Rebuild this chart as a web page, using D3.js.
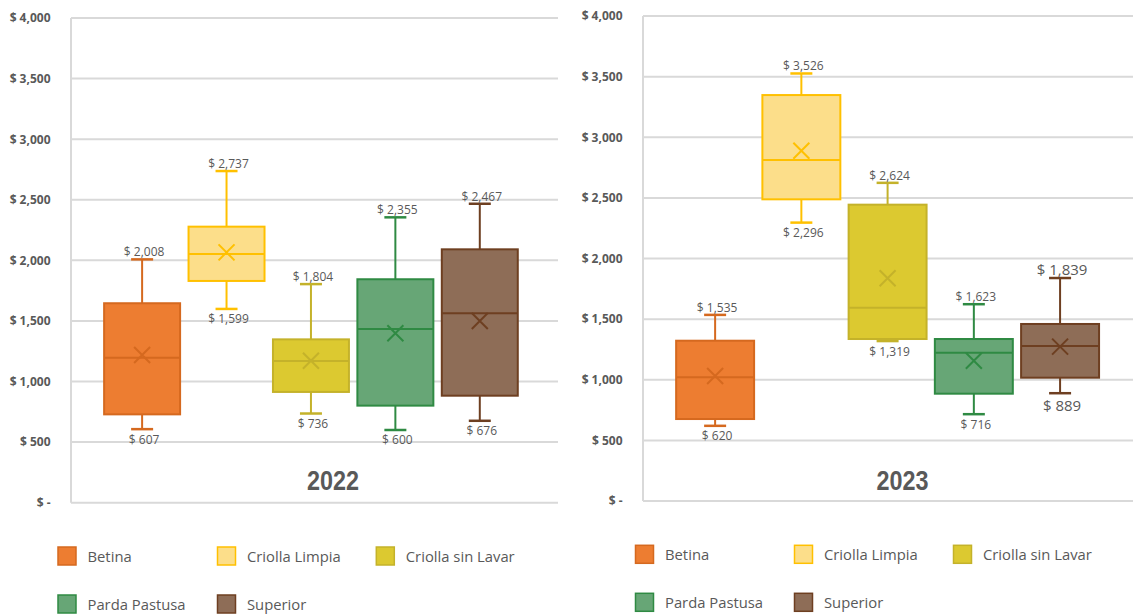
<!DOCTYPE html>
<html>
<head>
<meta charset="utf-8">
<script src="https://cdn.jsdelivr.net/npm/d3@7"></script>
<style>
  html, body { margin: 0; padding: 0; background: #ffffff; }
  svg { display: block; font-family: "Segoe UI", "Open Sans", sans-serif; }
</style>
</head>
<body>
<svg id="chart" width="1133" height="616"></svg>
<script>
// ---------- DATA ----------
const series = ["Betina", "Criolla Limpia", "Criolla sin Lavar", "Parda Pastusa", "Superior"];
const years = ["2022", "2023"];
const yTicks = [0, 500, 1000, 1500, 2000, 2500, 3000, 3500, 4000];
const yTickLabels = ["$ -", "$ 500", "$ 1,000", "$ 1,500", "$ 2,000", "$ 2,500", "$ 3,000", "$ 3,500", "$ 4,000"];

const min2022    = [607, 1599, 736, 600, 676];
const q1_2022    = [729, 1830, 914, 801, 883];
const median2022 = [1197, 2052, 1169, 1434, 1563];
const q3_2022    = [1646, 2278, 1348, 1844, 2091];
const max2022    = [2008, 2737, 1804, 2355, 2467];
const mean2022   = [1219, 2066, 1172, 1398, 1500];

const min2023    = [620, 2296, 1319, 716, 889];
const q1_2023    = [676, 2488, 1336, 885, 1017];
const median2023 = [1020, 2812, 1594, 1223, 1278];
const q3_2023    = [1322, 3348, 2444, 1336, 1460];
const max2023    = [1535, 3526, 2624, 1623, 1839];
const mean2023   = [1031, 2889, 1837, 1157, 1273];

// ---------- STYLE ----------
const fills   = ["#ED7D31", "#FCDE8A", "#DCC930", "#67A676", "#8E6D57"];
const strokes = ["#D5691F", "#FFC000", "#C4B22A", "#2F8A43", "#6E3F21"];
const textCol = "#595959";
const gridCol = "#d9d9d9";

const fmt = v => "$ " + d3.format(",")(v);

const panels = [
  { year: years[0], min: min2022, q1: q1_2022, med: median2022, q3: q3_2022, max: max2022, mean: mean2022,
    plotL: 71, plotR: 558, yTop: 18, yBot: 502.7, labelR: 50.5,
    band: [99.9, 522], pad: 0.1, titleX: 333,
    legend: { sw: [57, 216.5, 375.3], row: [546, 594] },
    bigLabel: [] },
  { year: years[1], min: min2023, q1: q1_2023, med: median2023, q3: q3_2023, max: max2023, mean: mean2023,
    plotL: 643, plotR: 1134, yTop: 16, yBot: 501, labelR: 622.5,
    band: [672, 1103.2], pad: 0.096, titleX: 902.5,
    legend: { sw: [634.5, 793.5, 952.5], row: [544.3, 592.3] },
    bigLabel: [4] }
];

const svg = d3.select("#chart");

panels.forEach(p => {
  const g = svg.append("g");
  const y = d3.scaleLinear().domain([0, 4000]).range([p.yBot, p.yTop]);
  const x = d3.scaleBand().domain(series).range(p.band).paddingInner(p.pad).paddingOuter(p.pad / 2);
  const bw = x.bandwidth();

  // gridlines
  g.append("g").selectAll("line").data(yTicks).join("line")
    .attr("x1", p.plotL).attr("x2", p.plotR)
    .attr("y1", d => y(d)).attr("y2", d => y(d))
    .attr("stroke", gridCol).attr("stroke-width", 2);
  // vertical axis line
  g.append("line").attr("x1", p.plotL).attr("x2", p.plotL)
    .attr("y1", y(4000)).attr("y2", y(0))
    .attr("stroke", gridCol).attr("stroke-width", 2);

  // y axis via d3.axisLeft
  const axis = d3.axisLeft(y).tickValues(yTicks)
    .tickFormat((d, i) => yTickLabels[i]).tickSize(0).tickPadding(0);
  const ag = g.append("g").attr("transform", `translate(${p.labelR},0)`).call(axis);
  ag.select(".domain").remove();
  ag.selectAll("text").attr("fill", textCol).attr("font-size", 12).attr("font-weight", "bold")
    .attr("font-family", "'Segoe UI', 'Open Sans', sans-serif");

  // boxes
  const data = series.map((s, i) => ({
    s, i, min: p.min[i], q1: p.q1[i], med: p.med[i], q3: p.q3[i], max: p.max[i], mean: p.mean[i]
  }));
  const bg = g.append("g").selectAll("g").data(data).join("g");
  const cx = d => x(d.s) + bw / 2;
  const capW = 22;

  // whiskers
  bg.append("line").attr("x1", cx).attr("x2", cx)
    .attr("y1", d => y(d.max)).attr("y2", d => y(d.q3))
    .attr("stroke", d => strokes[d.i]).attr("stroke-width", 2);
  bg.append("line").attr("x1", cx).attr("x2", cx)
    .attr("y1", d => y(d.q1)).attr("y2", d => y(d.min))
    .attr("stroke", d => strokes[d.i]).attr("stroke-width", 2);
  bg.append("line").attr("x1", d => cx(d) - capW / 2).attr("x2", d => cx(d) + capW / 2)
    .attr("y1", d => y(d.max)).attr("y2", d => y(d.max))
    .attr("stroke", d => strokes[d.i]).attr("stroke-width", 2.5);
  bg.append("line").attr("x1", d => cx(d) - capW / 2).attr("x2", d => cx(d) + capW / 2)
    .attr("y1", d => y(d.min)).attr("y2", d => y(d.min))
    .attr("stroke", d => strokes[d.i]).attr("stroke-width", 2.5);
  // box
  bg.append("rect").attr("x", d => x(d.s)).attr("width", bw)
    .attr("y", d => y(d.q3)).attr("height", d => y(d.q1) - y(d.q3))
    .attr("fill", d => fills[d.i]).attr("stroke", d => strokes[d.i]).attr("stroke-width", 2);
  // median
  bg.append("line").attr("x1", d => x(d.s)).attr("x2", d => x(d.s) + bw)
    .attr("y1", d => y(d.med)).attr("y2", d => y(d.med))
    .attr("stroke", d => strokes[d.i]).attr("stroke-width", 2);
  // mean X
  const m = 8;
  bg.append("path")
    .attr("d", d => {
      const X = cx(d), Y = y(d.mean);
      return `M${X - m},${Y - m}L${X + m},${Y + m}M${X - m},${Y + m}L${X + m},${Y - m}`;
    })
    .attr("stroke", d => strokes[d.i]).attr("stroke-width", 2).attr("fill", "none");

  // labels
  bg.append("text").attr("x", d => cx(d) + 2).attr("y", d => y(d.max) - 3)
    .attr("text-anchor", "middle")
    .attr("font-size", d => p.bigLabel.includes(d.i) ? 15 : 12)
    .attr("fill", textCol).text(d => fmt(d.max));
  bg.append("text").attr("x", d => cx(d) + 2)
    .attr("y", d => y(d.min) + (p.bigLabel.includes(d.i) ? 18 : 14.5))
    .attr("text-anchor", "middle")
    .attr("font-size", d => p.bigLabel.includes(d.i) ? 15 : 12)
    .attr("fill", textCol).text(d => fmt(d.min));

  // year title
  const t = g.append("text").attr("x", p.titleX).attr("y", 490)
    .attr("text-anchor", "middle").attr("font-size", 28).attr("font-weight", "bold")
    .attr("font-family", "'Liberation Sans Narrow', 'Arial Narrow', 'Liberation Sans', sans-serif")
    .attr("fill", textCol).text(p.year);
  const tl = t.node().getComputedTextLength();
  if (Math.abs(tl - 52) > 3) t.attr("textLength", 52).attr("lengthAdjust", "spacingAndGlyphs");

  // legend
  const lg = g.append("g");
  const items = series.map((s, i) => ({ s, i, col: i % 3, row: Math.floor(i / 3) }));
  const li = lg.selectAll("g").data(items).join("g")
    .attr("transform", d => `translate(${p.legend.sw[d.col]},${p.legend.row[d.row]})`);
  li.append("rect").attr("x", 1).attr("y", 1).attr("width", 18).attr("height", 18)
    .attr("fill", d => fills[d.i]).attr("stroke", d => strokes[d.i]).attr("stroke-width", 1.5);
  li.append("text").attr("x", 30.5).attr("y", 15.8).attr("font-size", 14.8)
    .attr("fill", textCol).text(d => d.s);
});
</script>
</body>
</html>
